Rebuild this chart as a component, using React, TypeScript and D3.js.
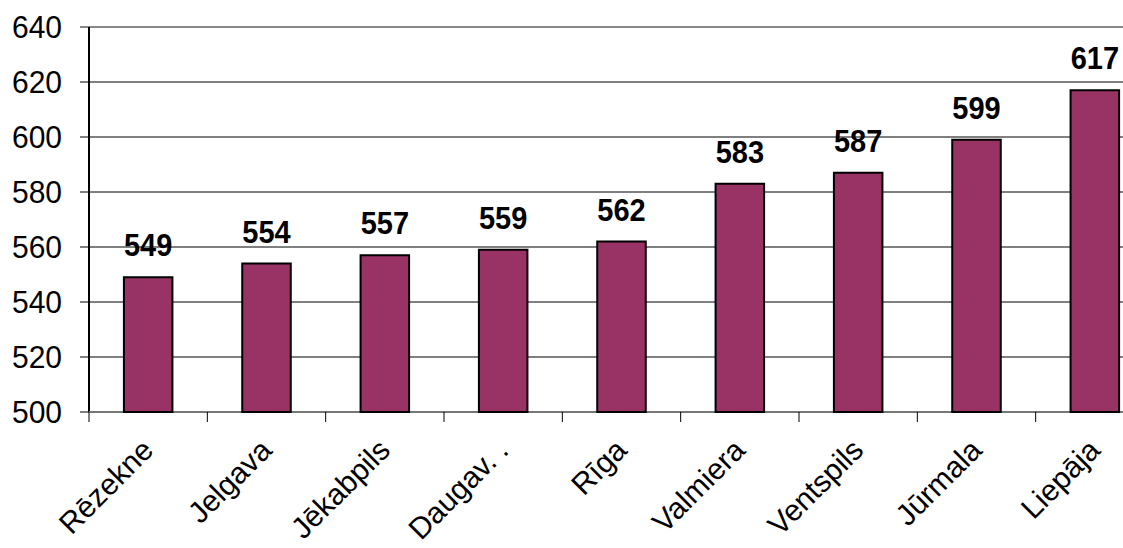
import React from "react";
import * as d3 from "d3";

const categories = ["Rēzekne", "Jelgava", "Jēkabpils", "Daugav. .", "Rīga", "Valmiera", "Ventspils", "Jūrmala", "Liepāja"];
const values = [549, 554, 557, 559, 562, 583, 587, 599, 617];
const yTicks = [500, 520, 540, 560, 580, 600, 620, 640];

export default function App() {
  const W = 1123, H = 548;
  const left = 89, right = 1154, top = 27, bottom = 412;
  const x = d3.scaleBand<string>().domain(categories).range([left, right]).paddingInner(0.59).paddingOuter(0.295);
  const y = d3.scaleLinear().domain([500, 640]).range([bottom, top]);
  const step = x.step();
  const font = "'Liberation Sans', Arial, sans-serif";
  return (
    <svg width={W} height={H} style={{ position: "absolute", left: 0, top: 0, background: "#fff" }} fontFamily={font}>
      {yTicks.map((t) => (
        <g key={t}>
          <line x1={left - 9} x2={W} y1={y(t)} y2={y(t)} stroke={t === 640 ? "#888" : "#000"} strokeWidth={t === 640 ? 2 : 1} />
          <text transform={`translate(62,${y(t) + 11}) scale(1,1.07)`} textAnchor="end" fontSize={30} fill="#000">{t}</text>
        </g>
      ))}
      <line x1={left} x2={left} y1={top} y2={bottom} stroke="#000" strokeWidth={2} />
      <line x1={left} x2={W} y1={bottom} y2={bottom} stroke="#777" strokeWidth={2} />
      {categories.map((c, i) => (
        <line key={"t" + c} x1={left + i * step} x2={left + i * step} y1={bottom} y2={bottom + 10} stroke="#000" strokeWidth={1} />
      ))}
      {categories.map((c, i) => {
        const bx = x(c)!;
        const bw = x.bandwidth();
        const v = values[i];
        return (
          <g key={c}>
            <rect x={bx} y={y(v)} width={bw} height={bottom - y(v)} fill="#993366" stroke="#000" strokeWidth={2} />
            <text transform={`translate(${bx + bw / 2},${y(v) - 21}) scale(1,1.1)`} textAnchor="middle" fontSize={29} fontWeight="bold" fill="#000">{v}</text>
            <text transform={`translate(${bx + bw / 2 + 7},${bottom + 40}) rotate(-45)`} textAnchor="end" fontSize={30} fill="#000">{c}</text>
          </g>
        );
      })}
    </svg>
  );
}
